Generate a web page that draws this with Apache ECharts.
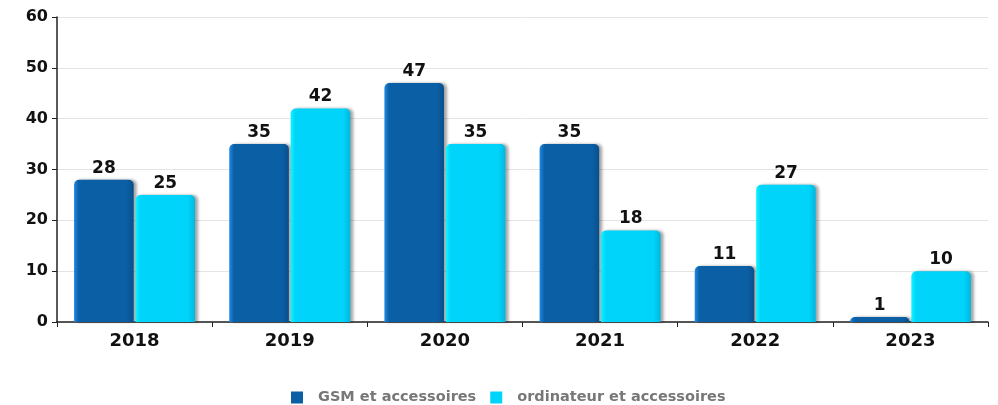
<!DOCTYPE html>
<html>
<head>
<meta charset="utf-8">
<script src="https://cdn.jsdelivr.net/npm/echarts@6/dist/echarts.min.js"></script>
<style>
  html, body { margin: 0; padding: 0; background: #fff; }
  #chart { width: 998px; height: 405px; }
</style>
</head>
<body>
<div id="chart"></div>
<script>
const years = ['2018', '2019', '2020', '2021', '2022', '2023'];
const gsm = [28, 35, 47, 35, 11, 1];
const ordinateur = [25, 42, 35, 18, 27, 10];
const seriesNames = ['GSM et accessoires', 'ordinateur et accessoires'];
const yTicks = [0, 10, 20, 30, 40, 50, 60];

const font = 'DejaVu Sans';

function barGradient(light, mid, dark) {
  return new echarts.graphic.LinearGradient(0, 0, 1, 0, [
    { offset: 0, color: light },
    { offset: 0.08, color: mid },
    { offset: 0.88, color: mid },
    { offset: 1, color: dark }
  ]);
}

function barSeries(name, data, light, mid, dark) {
  return {
    name: name,
    type: 'bar',
    data: data,
    barGap: '3%',
    barCategoryGap: '22%',
    itemStyle: {
      color: barGradient(light, mid, dark),
      borderRadius: [5, 5, 0, 0],
      shadowColor: 'rgba(0,0,0,0.35)',
      shadowBlur: 3,
      shadowOffsetX: 3,
      shadowOffsetY: 0
    },
    label: {
      show: true,
      position: 'top',
      distance: 3,
      color: '#111',
      fontFamily: font,
      fontWeight: 'bold',
      fontSize: 17
    }
  };
}

const chart = echarts.init(document.getElementById('chart'), null, { renderer: 'canvas' });
chart.setOption({
  animation: false,
  backgroundColor: '#fff',
  grid: { left: 57, right: 10, top: 17, bottom: 83 },
  legend: {
    data: [
      { name: seriesNames[0], itemStyle: { color: '#0b5fa5' } },
      { name: seriesNames[1], itemStyle: { color: '#00d4fa' } }
    ],
    top: 385,
    left: 286,
    icon: 'rect',
    itemWidth: 12,
    itemHeight: 12,
    itemGap: 14,
    textStyle: { color: '#777', fontFamily: font, fontWeight: 'bold', fontSize: 14.5, padding: [0, 0, 0, 10] }
  },
  xAxis: {
    type: 'category',
    data: years,
    axisLine: { lineStyle: { color: '#222', width: 1.5 } },
    axisTick: { show: true, length: 5, lineStyle: { color: '#222' } },
    axisLabel: { color: '#111', fontFamily: font, fontWeight: 'bold', fontSize: 18, margin: 10 }
  },
  yAxis: {
    type: 'value',
    min: yTicks[0],
    max: yTicks[yTicks.length - 1],
    interval: 10,
    axisLine: { show: true, lineStyle: { color: '#222', width: 1.5 } },
    axisTick: { show: true, length: 5, lineStyle: { color: '#222' } },
    axisLabel: { color: '#111', fontFamily: font, fontWeight: 'bold', fontSize: 16, margin: 9 },
    splitLine: { lineStyle: { color: '#e4e4e4' } }
  },
  series: [
    barSeries(seriesNames[0], gsm, '#1f8ae6', '#0b5fa5', '#084f8c'),
    barSeries(seriesNames[1], ordinateur, '#10f4ff', '#00d4fa', '#00b8de')
  ]
});
</script>
</body>
</html>
